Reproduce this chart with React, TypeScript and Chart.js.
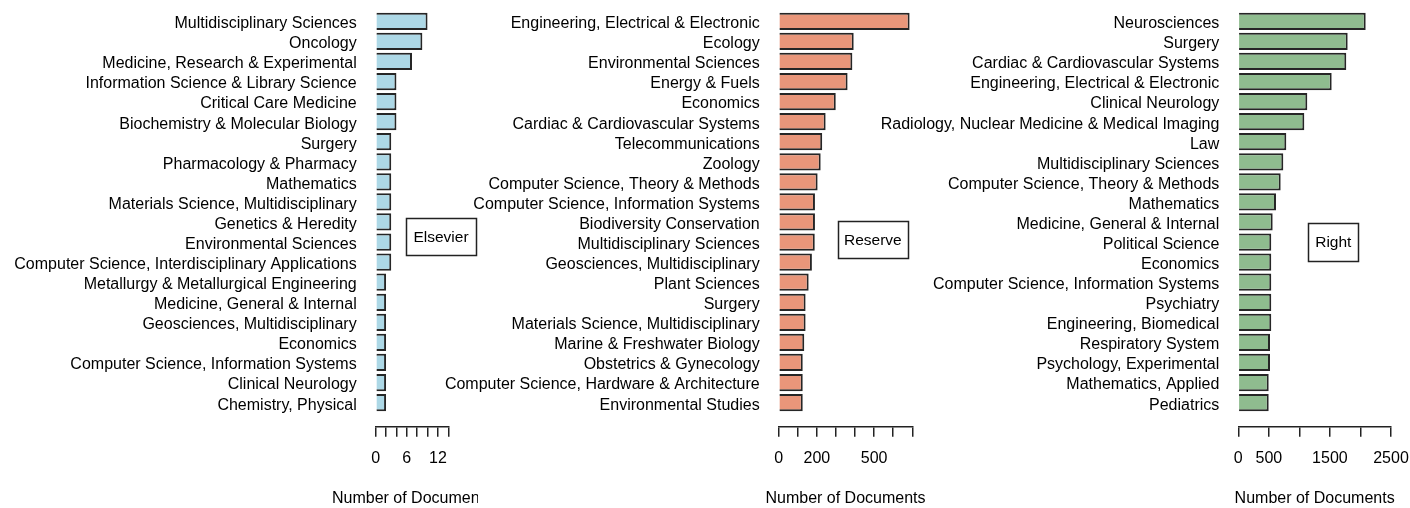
import React, { useEffect, useRef } from 'react';
import { Chart, registerables } from 'chart.js';

Chart.register(...registerables);

const FONT = '"Liberation Sans", Arial, Helvetica, sans-serif';
Chart.defaults.font.family = FONT;
Chart.defaults.font.size = 16;
Chart.defaults.color = '#000';

// ---------- data ----------
const elsevierCategories = [
  'Multidisciplinary Sciences',
  'Oncology',
  'Medicine, Research & Experimental',
  'Information Science & Library Science',
  'Critical Care Medicine',
  'Biochemistry & Molecular Biology',
  'Surgery',
  'Pharmacology & Pharmacy',
  'Mathematics',
  'Materials Science, Multidisciplinary',
  'Genetics & Heredity',
  'Environmental Sciences',
  'Computer Science, Interdisciplinary Applications',
  'Metallurgy & Metallurgical Engineering',
  'Medicine, General & Internal',
  'Geosciences, Multidisciplinary',
  'Economics',
  'Computer Science, Information Systems',
  'Clinical Neurology',
  'Chemistry, Physical',
];
const elsevierValues = [10, 9, 7, 4, 4, 4, 3, 3, 3, 3, 3, 3, 3, 2, 2, 2, 2, 2, 2, 2];

const reserveCategories = [
  'Engineering, Electrical & Electronic',
  'Ecology',
  'Environmental Sciences',
  'Energy & Fuels',
  'Economics',
  'Cardiac & Cardiovascular Systems',
  'Telecommunications',
  'Zoology',
  'Computer Science, Theory & Methods',
  'Computer Science, Information Systems',
  'Biodiversity Conservation',
  'Multidisciplinary Sciences',
  'Geosciences, Multidisciplinary',
  'Plant Sciences',
  'Surgery',
  'Materials Science, Multidisciplinary',
  'Marine & Freshwater Biology',
  'Obstetrics & Gynecology',
  'Computer Science, Hardware & Architecture',
  'Environmental Studies',
];
const reserveValues = [686, 393, 386, 361, 299, 246, 228, 220, 204, 190, 190, 189, 174, 157, 141, 141, 134, 126, 126, 126];

const rightCategories = [
  'Neurosciences',
  'Surgery',
  'Cardiac & Cardiovascular Systems',
  'Engineering, Electrical & Electronic',
  'Clinical Neurology',
  'Radiology, Nuclear Medicine & Medical Imaging',
  'Law',
  'Multidisciplinary Sciences',
  'Computer Science, Theory & Methods',
  'Mathematics',
  'Medicine, General & Internal',
  'Political Science',
  'Economics',
  'Computer Science, Information Systems',
  'Psychiatry',
  'Engineering, Biomedical',
  'Respiratory System',
  'Psychology, Experimental',
  'Mathematics, Applied',
  'Pediatrics',
];
const rightValues = [2086, 1791, 1768, 1529, 1130, 1081, 786, 737, 694, 617, 563, 540, 540, 540, 540, 540, 519, 519, 498, 498];

const elsevierTickLabels = [0, 6, 12];
const reserveTickLabels = [0, 200, 500];
const rightTickLabels = [0, 500, 1500, 2500];

const xAxisTitle = 'Number of Documents';

// ---------- layout ----------
const H = 508;
const PLOT_TOP = 9.26;
const AXIS_Y = 426.7;
const TITLE_Y = 498.3;
const LINE = '#222';

type LegendBox = { text: string; x: number; y: number; w: number; h: number };

type PanelCfg = {
  categories: string[];
  values: number[];
  tickLabels: number[];
  color: string;
  xMax: number;
  step: number;
  canvasLeft: number;
  canvasWidth: number;
  plotLeft: number;
  plotRight: number;
  legend: LegendBox;
};

const panels: PanelCfg[] = [
  {
    categories: elsevierCategories,
    values: elsevierValues,
    tickLabels: elsevierTickLabels,
    color: '#ADD8E6',
    xMax: 14,
    step: 2,
    canvasLeft: 0,
    canvasWidth: 478,
    plotLeft: 375.7,
    plotRight: 448.3,
    legend: { text: 'Elsevier', x: 406, y: 218.3, w: 70, h: 37 },
  },
  {
    categories: reserveCategories,
    values: reserveValues,
    tickLabels: reserveTickLabels,
    color: '#E9967A',
    xMax: 700,
    step: 100,
    canvasLeft: 420,
    canvasWidth: 515,
    plotLeft: 778.7,
    plotRight: 912.3,
    legend: { text: 'Reserve', x: 838, y: 221, w: 69.7, h: 37 },
  },
  {
    categories: rightCategories,
    values: rightValues,
    tickLabels: rightTickLabels,
    color: '#8FBC8F',
    xMax: 2500,
    step: 500,
    canvasLeft: 870,
    canvasWidth: 540,
    plotLeft: 1238.3,
    plotRight: 1391,
    legend: { text: 'Right', x: 1308.3, y: 222.7, w: 50, h: 38 },
  },
];

const rDecor = {
  id: 'rDecor',
  afterDraw(chart: any, _args: any, opts: any) {
    const { ctx, chartArea } = chart;
    ctx.save();
    ctx.fillStyle = '#000';
    ctx.textAlign = 'center';
    ctx.textBaseline = 'middle';
    ctx.font = `16px ${FONT}`;
    ctx.fillText(opts.title, (chartArea.left + chartArea.right) / 2, TITLE_Y);
    const lg: LegendBox = opts.legend;
    const x = lg.x - opts.offsetX;
    ctx.strokeStyle = LINE;
    ctx.lineWidth = 1.5;
    ctx.strokeRect(Math.round(x) + 0.5, Math.round(lg.y) + 0.5, Math.round(lg.w), Math.round(lg.h));
    ctx.font = `15.5px ${FONT}`;
    ctx.fillText(lg.text, x + lg.w / 2, lg.y + lg.h / 2 + 1);
    ctx.restore();
  },
};

function Panel({ cfg }: { cfg: PanelCfg }) {
  const ref = useRef<HTMLCanvasElement>(null);
  useEffect(() => {
    const canvas = ref.current;
    if (!canvas) return;
    const yAxisWidth = cfg.plotLeft - cfg.canvasLeft;
    const padRight = cfg.canvasLeft + cfg.canvasWidth - cfg.plotRight;
    const chart = new Chart(canvas, {
      type: 'bar',
      data: {
        datasets: [
          {
            data: cfg.values.map((v, i) => ({ x: v, y: i })),
            backgroundColor: cfg.color,
            borderColor: '#262626',
            borderWidth: 2,
            barPercentage: 0.86,
            categoryPercentage: 1,
          } as any,
        ],
      },
      options: {
        indexAxis: 'y',
        responsive: false,
        animation: false,
        events: [],
        layout: { padding: { top: PLOT_TOP, right: padRight, left: 0, bottom: 0 } },
        plugins: {
          legend: { display: false },
          tooltip: { enabled: false },
          rDecor: { title: xAxisTitle, legend: cfg.legend, offsetX: cfg.canvasLeft },
        } as any,
        scales: {
          y: {
            type: 'linear',
            reverse: true,
            min: -0.6,
            max: 20.2,
            bounds: 'data',
            offset: false,
            grid: { display: false, drawTicks: false, offset: false },
            border: { display: false },
            afterBuildTicks: (s: any) => {
              s.ticks = cfg.categories.map((_, i) => ({ value: i }));
            },
            afterFit: (s: any) => {
              s.width = yAxisWidth;
              s.paddingTop = 0;
              s.paddingBottom = 0;
            },
            ticks: {
              autoSkip: false,
              padding: 19,
              labelOffset: 2.5,
              color: '#000',
              font: { size: 16, family: FONT },
              callback: (v: any) => cfg.categories[v as number] ?? '',
            },
          },
          x: {
            type: 'linear',
            position: 'bottom',
            min: 0,
            max: cfg.xMax,
            bounds: 'data',
            grid: {
              display: true,
              drawOnChartArea: false,
              drawTicks: true,
              tickLength: 10,
              color: LINE,
              lineWidth: 1.5,
            },
            border: { display: true, color: LINE, width: 1.5 },
            afterFit: (s: any) => {
              s.height = H - AXIS_Y;
              s.paddingLeft = 0;
              s.paddingRight = 0;
            },
            ticks: {
              stepSize: cfg.step,
              autoSkip: false,
              maxRotation: 0,
              minRotation: 0,
              padding: 12,
              color: '#000',
              font: { size: 16, family: FONT },
              callback: (v: any) => (cfg.tickLabels.includes(v as number) ? String(v) : ''),
            },
          },
        } as any,
      },
      plugins: [rDecor as any],
    });
    return () => chart.destroy();
  }, [cfg]);
  return (
    <canvas
      ref={ref}
      width={cfg.canvasWidth}
      height={H}
      style={{ position: 'absolute', left: cfg.canvasLeft, top: 0 }}
    />
  );
}

export default function App() {
  return (
    <div style={{ position: 'absolute', left: 0, top: 0, width: 1410, height: H, background: '#fff', overflow: 'hidden' }}>
      {panels.map((p, i) => (
        <Panel key={i} cfg={p} />
      ))}
    </div>
  );
}
